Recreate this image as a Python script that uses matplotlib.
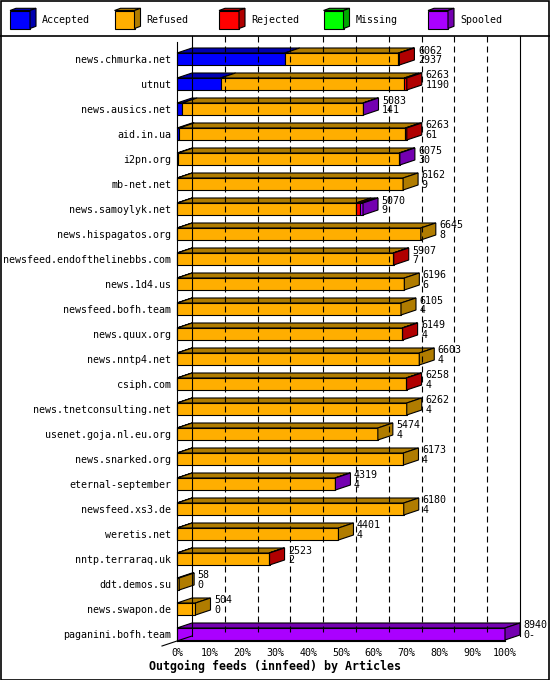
import matplotlib
matplotlib.use("Agg")
import matplotlib.pyplot as plt
from matplotlib.lines import Line2D
from matplotlib.patches import Polygon, Rectangle

# ---------------------------------------------------------------------------
# Data (articles per outgoing feed)
# ---------------------------------------------------------------------------
hosts = [
    "news.chmurka.net", "utnut", "news.ausics.net", "aid.in.ua", "i2pn.org",
    "mb-net.net", "news.samoylyk.net", "news.hispagatos.org",
    "newsfeed.endofthelinebbs.com", "news.1d4.us", "newsfeed.bofh.team",
    "news.quux.org", "news.nntp4.net", "csiph.com", "news.tnetconsulting.net",
    "usenet.goja.nl.eu.org", "news.snarked.org", "eternal-september",
    "newsfeed.xs3.de", "weretis.net", "nntp.terraraq.uk", "ddt.demos.su",
    "news.swapon.de", "paganini.bofh.team",
]
offered = [6062, 6263, 5083, 6263, 6075, 6162, 5070, 6645, 5907, 6196, 6105, 6149,
           6603, 6258, 6262, 5474, 6173, 4319, 6180, 4401, 2523, 58, 504, 8940]
accepted = [2937, 1190, 141, 61, 30, 9, 9, 8, 7, 6, 4, 4,
            4, 4, 4, 4, 4, 4, 4, 4, 2, 0, 0, 0]
refused = [3100, 5003, 4927, 6162, 6025, 6153, 4871, 6637, 5885, 6190, 6101, 6130,
           6599, 6239, 6258, 5470, 6169, 4300, 6176, 4397, 2506, 58, 504, 0]
rejected = [25, 70, 0, 40, 0, 0, 120, 0, 15, 0, 0, 15,
            0, 15, 0, 0, 0, 0, 0, 0, 15, 0, 0, 0]
missing = [0] * 24
spooled = [0, 0, 15, 0, 20, 0, 70, 0, 0, 0, 0, 0,
           0, 0, 0, 0, 0, 15, 0, 0, 0, 0, 0, 8940]

categories = ["Accepted", "Refused", "Rejected", "Missing", "Spooled"]
front_colors = ["#0000ff", "#ffae00", "#ff0000", "#00ff00", "#aa00ff"]
dark_colors = ["#0000b0", "#b07c00", "#b00000", "#00a800", "#7400b0"]

# ---------------------------------------------------------------------------
# Layout (pixels)
# ---------------------------------------------------------------------------
W, H, DPI = 550, 680, 100
X0, X1 = 177, 505          # 0% and 100% on the front plane
ROW0, ROW_STEP = 59, 25    # centre of first row, row pitch
AX_TOP, AX_BOT = 36, 641
DEPTH_X, DEPTH_Y = 15, 5   # 3D offset
HALF_H = 6
LW = 0.8
FONT = "DejaVu Sans Mono"

PX_X = 100.0 / (X1 - X0)   # percent per pixel
PX_Y = 1.0 / ROW_STEP      # rows per pixel
dx, dy, hh = DEPTH_X * PX_X, DEPTH_Y * PX_Y, HALF_H * PX_Y
scale_max = max(offered)


def _poly(ax, pts, fc):
    ax.add_patch(Polygon(pts, closed=True, fc=fc, ec="black", lw=LW,
                         clip_on=False, joinstyle="miter"))


def _draw_row(ax, r, segs):
    left, last = 0.0, None
    for k, v in enumerate(segs):
        if v <= 0:
            continue
        w = v / scale_max * 100
        ax.add_patch(Rectangle((left, r - hh), w, 2 * hh, fc=front_colors[k],
                               ec="black", lw=LW, clip_on=False))
        _poly(ax, [(left, r - hh), (left + w, r - hh),
                   (left + w + dx, r - hh - dy), (left + dx, r - hh - dy)],
              dark_colors[k])
        left += w
        last = k
    if last is not None:
        _poly(ax, [(left, r - hh), (left, r + hh),
                   (left + dx, r + hh - dy), (left + dx, r - hh - dy)],
              dark_colors[last])
    return left


fig = plt.figure(figsize=(W / DPI, H / DPI), dpi=DPI)
fig.patch.set_facecolor("white")

ax = fig.add_axes([X0 / W, 1 - AX_BOT / H, (X1 - X0) / W, (AX_BOT - AX_TOP) / H])
n = len(hosts)
r_top = (AX_TOP - ROW0) * PX_Y
r_bot = (AX_BOT - ROW0) * PX_Y
ax.set_xlim(0, 100)
ax.set_ylim(r_bot, r_top)
for s in ax.spines.values():
    s.set_visible(False)
ax.patch.set_alpha(0)

# back wall grid
for i in range(1, 11):
    x = i * 10 + dx
    ln = Line2D([x, x], [r_top, r_bot - dy], color="black", lw=LW, clip_on=False)
    if i < 10:
        ln.set_dashes((6 / LW * 0.72, 4 / LW * 0.72))
    ax.add_line(ln)
ax.add_line(Line2D([dx, dx], [r_top, r_bot - dy], color="black", lw=LW, clip_on=False))
ax.add_line(Line2D([0, 0], [r_top + 6 * PX_Y, r_bot], color="black", lw=LW, clip_on=False))
ax.add_line(Line2D([0, 100], [r_bot, r_bot], color="black", lw=LW, clip_on=False))
ax.add_line(Line2D([-dx, dx], [r_bot + dy, r_bot - dy], color="black", lw=LW, clip_on=False))

for r in range(n):
    segs = [accepted[r], refused[r], rejected[r], missing[r], spooled[r]]
    end = _draw_row(ax, r, segs)
    tx = end + dx + 3.5 * PX_X
    ax.text(tx, r - 8.5 * PX_Y, str(offered[r]), fontsize=7.2, family=FONT,
            va="center", ha="left", clip_on=False)
    acc_txt = str(accepted[r]) + ("-" if r == n - 1 else "")
    ax.text(tx, r + 1 * PX_Y, acc_txt, fontsize=7.2, family=FONT,
            va="center", ha="left", clip_on=False)

ax.set_yticks(range(n), hosts, fontsize=7.2, family=FONT)
ax.set_xticks(range(0, 101, 10), [f"{p}%" for p in range(0, 101, 10)],
              fontsize=7.2, family=FONT)
ax.tick_params(axis="both", length=0)
ax.tick_params(axis="y", pad=4)
ax.tick_params(axis="x", pad=5)

fig.text(0.5, 1 - 666 / H, "Outgoing feeds (innfeed) by Articles", ha="center",
         va="center", fontsize=8.4, family=FONT, fontweight="bold")

# legend strip
leg = fig.add_axes([0, 1 - 36 / H, 1, 36 / H])
leg.set_xlim(0, W)
leg.set_ylim(36, 0)
leg.axis("off")
for k, name in enumerate(categories):
    x = 10 + k * 104.5
    leg.add_patch(Rectangle((x, 10.5), 20, 18, fc=front_colors[k], ec="black", lw=LW))
    _poly(leg, [(x, 10.5), (x + 20, 10.5), (x + 26, 8.3), (x + 6, 8.3)], dark_colors[k])
    _poly(leg, [(x + 20, 10.5), (x + 20, 28.5), (x + 26, 26.3), (x + 26, 8.3)], dark_colors[k])
    leg.text(x + 32, 20, name, fontsize=7.2, family=FONT, va="center", ha="left")

fig.add_artist(Line2D([0, 1], [1 - 35.5 / H] * 2, color="black", lw=1.2,
                      transform=fig.transFigure))
fig.add_artist(Rectangle((0.5 / W, 0.5 / H), 1 - 1.5 / W, 1 - 1.5 / H, fill=False,
                         ec="black", lw=1.2, transform=fig.transFigure))

fig.savefig("out.png", dpi=DPI)
